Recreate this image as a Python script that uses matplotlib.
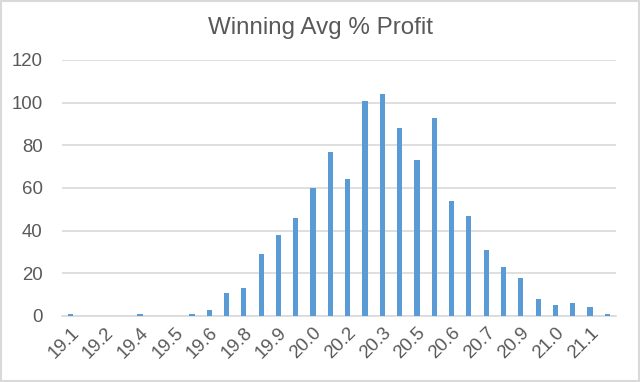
import matplotlib
matplotlib.use("Agg")
import matplotlib.pyplot as plt
from matplotlib.patches import Rectangle

plt.rcParams['font.family'] = ['Liberation Sans', 'DejaVu Sans']

# histogram bins (Excel rounds the category labels to 1 decimal)
bins = ["19.1", "19.2", "19.2", "19.3", "19.4", "19.4", "19.5", "19.6",
        "19.6", "19.7", "19.8", "19.8", "19.9", "20.0", "20.0", "20.1",
        "20.2", "20.3", "20.3", "20.4", "20.5", "20.5", "20.6", "20.7",
        "20.7", "20.8", "20.9", "20.9", "21.0", "21.1", "21.1", "21.2"]
counts = [1, 0, 0, 0, 1, 0, 0, 1,
          3, 11, 13, 29, 38, 46, 60, 77,
          64, 101, 104, 88, 73, 93, 54, 47,
          31, 23, 18, 8, 5, 6, 4, 1]
yticks = [0, 20, 40, 60, 80, 100, 120]

grey = '#595959'
line = '#D9D9D9'

fig = plt.figure(figsize=(6.4, 3.82), dpi=100)
ax = fig.add_axes([0.097, 0.1728, 0.8655, 0.6702])

x = list(range(len(bins)))
ax.bar(x, counts, width=0.3, color='#5B9BD5', zorder=3)

ax.set_xlim(-0.5, len(bins) - 0.5)
ax.set_ylim(0, 120)
ax.set_yticks(yticks)
ax.set_yticklabels([str(v) for v in yticks], fontsize=13.4, color=grey)
ax.set_xticks(x[::2])
ax.set_xticklabels(bins[::2], rotation=45, ha='right', rotation_mode='anchor',
                   fontsize=13.4, color=grey)
ax.tick_params(axis='both', length=0)
ax.tick_params(axis='y', pad=14)
ax.tick_params(axis='x', pad=6)

ax.grid(axis='y', color=line, linewidth=1.2, zorder=0)
for s in ['top', 'right', 'left']:
    ax.spines[s].set_visible(False)
ax.spines['bottom'].set_color(line)
ax.spines['bottom'].set_linewidth(1.2)

fig.text(0.5, 0.928, "Winning Avg % Profit", ha='center', va='center',
         fontsize=17.4, color=grey)

# chart border
fig.patches.append(Rectangle((0.001, 0.002), 0.997, 0.995, transform=fig.transFigure,
                             fill=False, edgecolor=line, linewidth=1.5))

fig.savefig("out.png", dpi=100)
